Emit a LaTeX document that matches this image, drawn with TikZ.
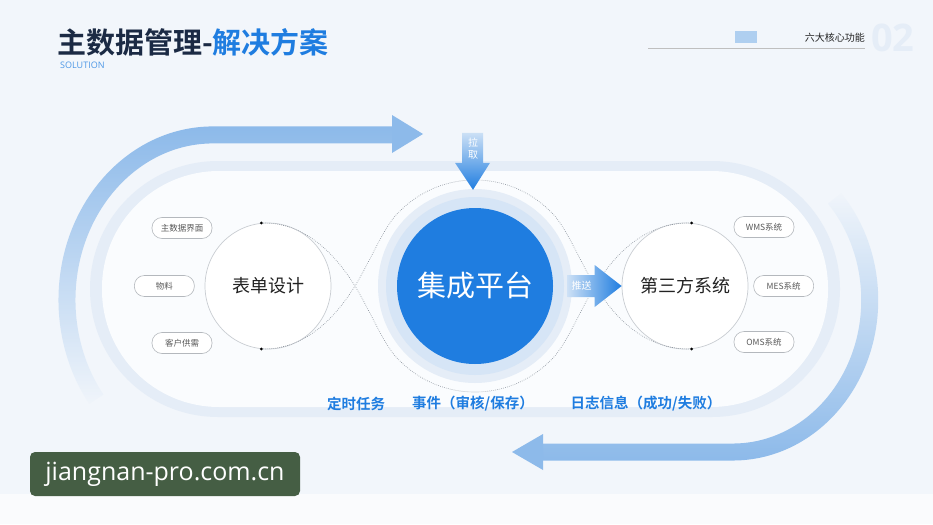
\documentclass[tikz,border=0pt]{standalone}
\usepackage{fontspec}
\setmainfont{Noto Sans CJK SC}[BoldFont={Noto Sans CJK SC Bold}]
\newfontfamily\latinfont{Open Sans}
\usepackage{tikz}
\usetikzlibrary{positioning,calc,fadings}
\usepackage{xcolor}
\definecolor{navy}{HTML}{1B2A44}
\definecolor{hubc}{HTML}{1F7DE0}
\definecolor{flow}{HTML}{8DBAEA}
\definecolor{paper}{HTML}{F2F6FB}
\definecolor{band}{HTML}{E5EDF7}
\definecolor{halo}{HTML}{D6E5F6}
\definecolor{rim}{HTML}{C9CDD2}
\definecolor{tagline}{HTML}{B4B8BD}
\definecolor{ink}{HTML}{222222}
\definecolor{dotc}{HTML}{8A929C}
\definecolor{pin}{HTML}{2F6FB8}
\definecolor{wm}{HTML}{455E44}
\tikzfading[name=fadeleftarc, top color=transparent!0,
  middle color=transparent!20, bottom color=transparent!100]
\tikzfading[name=faderightarc, top color=transparent!100,
  middle color=transparent!20, bottom color=transparent!0]
\tikzset{
  ring/.style={circle, draw=rim, line width=0.7pt, fill=white, minimum size=126pt,
              inner sep=0pt, font=\fontsize{18}{20}\selectfont, text=ink},
  tag/.style={rounded corners=10pt, draw=tagline, line width=0.6pt, fill=white,
              minimum width=60pt, minimum height=21pt, inner sep=0pt,
              font=\fontsize{8.5}{10}\selectfont, text=black!65},
  trail/.style={dotc, line width=0.6pt, dash pattern=on 0.7pt off 1.3pt},
  flowline/.style={flow, line width=17pt},
  badge/.style={text=white, inner sep=0pt, align=center,
              font=\fontsize{10}{12}\selectfont},
  caption/.style={text=hubc, inner sep=0pt, font=\bfseries\fontsize{14.5}{16}\selectfont},
}
\begin{document}
\begin{tikzpicture}[x=1pt, y=-1pt, node distance=10pt]
\useasboundingbox (0,0) rectangle (933,524);
\fill[paper] (0,0) rectangle (933,494);
\fill[paper!40!white] (0,494) rectangle (933,524);

\node[anchor=west, inner sep=0pt, font=\bfseries\fontsize{29}{32}\selectfont] (title) at (57,42)
  {\textcolor{navy}{主数据管理-}\textcolor{hubc}{解决方案}};
\node[anchor=north west, inner sep=0pt, text=hubc!80, font=\latinfont\fontsize{9}{10}\selectfont]
  (sub) at (60,62) {SOLUTION};
\draw[black!25, line width=1pt] (648,49) -- (865,49);
\fill[flow!70] (735,31) rectangle (757,43);
\node[anchor=east, inner sep=0pt, text=ink, font=\fontsize{10}{12}\selectfont] (topic) at (865,38) {六大核心功能};
\node[anchor=west, inner sep=0pt, text=band, font=\latinfont\bfseries\fontsize{38}{40}\selectfont]
  (pageno) at (871,38) {02};

\fill[band, rounded corners=128pt] (90,161) rectangle (840,417);
\fill[white!65!paper, rounded corners=117pt] (102,171) rectangle (828,407);

\draw[flowline, path fading=fadeleftarc] (393,135) -- (213,135)
  arc[start angle=270, end angle=143, x radius=146, y radius=165];
\fill[flow] (392,115) -- (423,134) -- (392,153) -- cycle;
\draw[flowline, path fading=faderightarc] (542,452) -- (733,452)
  arc[start angle=90, end angle=-42, x radius=137, y radius=152];
\fill[flow] (543,434) -- (512,452) -- (543,470) -- cycle;

\node[circle, fill=band, minimum size=194pt] (glow) at (475,286) {};
\node[circle, fill=halo, minimum size=178pt] (halo) at (475,286) {};
\node[circle, fill=hubc, minimum size=156pt, inner sep=0pt, text=white,
  font=\fontsize{29}{32}\selectfont] (hub) at (475,286) {集成平台};

\node[ring] (form) at (268,286) {表单设计};
\node[ring] (third) at (685,286) {第三方系统};

\draw[trail] (form.264) .. controls (305,350) and (335,318) .. (355,286)
  .. controls (372,258) and (385,224) .. (400,211)
  arc[start angle=225, end angle=315, radius=106]
  .. controls (565,224) and (578,258) .. (595,286)
  .. controls (615,318) and (645,350) .. (third.276);
\draw[trail] (form.96) .. controls (305,222) and (335,254) .. (355,286)
  .. controls (372,314) and (385,348) .. (400,361)
  arc[start angle=135, end angle=45, radius=106]
  .. controls (565,348) and (578,314) .. (595,286)
  .. controls (615,254) and (645,222) .. (third.84);
\foreach \a in {96,264} \fill[pin] (form.\a) circle (1.6pt);
\foreach \a in {84,276} \fill[pin] (third.\a) circle (1.6pt);

\node[tag] (screen) at (182,228) {主数据界面};
\node[tag, left=of form] (material) {物料};
\node[tag] (demand) at (182,343) {客户供需};
\node[tag] (wms) at (764,227) {WMS系统};
\node[tag, right=5pt of third] (mes) {MES系统};
\node[tag] (oms) at (764,342) {OMS系统};

\coordinate (pulltip) at ($(hub.north)+(-2,-18)$);
\shade[top color=flow!45!white, bottom color=hubc] ($(pulltip)+(-11,-57)$) -- ($(pulltip)+(10,-57)$)
  -- ($(pulltip)+(10,-27)$) -- ($(pulltip)+(17,-27)$) -- (pulltip)
  -- ($(pulltip)+(-18,-27)$) -- ($(pulltip)+(-11,-27)$) -- cycle;
\node[badge] (pull) at ($(pulltip)+(0,-41)$) {拉\\取};
\coordinate (pushtip) at (third.west);
\shade[left color=flow!45!white, right color=hubc] ($(pushtip)+(-54,-11)$) -- ($(pushtip)+(-27,-11)$)
  -- ($(pushtip)+(-27,-21)$) -- (pushtip) -- ($(pushtip)+(-27,21)$)
  -- ($(pushtip)+(-27,11)$) -- ($(pushtip)+(-54,11)$) -- cycle;
\node[badge] (push) at ($(pushtip)+(-40,0)$) {推送};

\node[caption] (timer) at (356,404) {定时任务};
\node[caption] (event) at (473,404) {事件（审核/保存）};
\node[caption] (log) at (646,404) {日志信息（成功/失败）};

\node[fill=wm, rounded corners=5pt, text=white, minimum width=270pt, minimum height=44pt,
  inner sep=0pt, font=\latinfont\fontsize{25}{27}\selectfont] (site) at (165,474) {jiangnan-pro.com.cn};
\end{tikzpicture}
\end{document}
